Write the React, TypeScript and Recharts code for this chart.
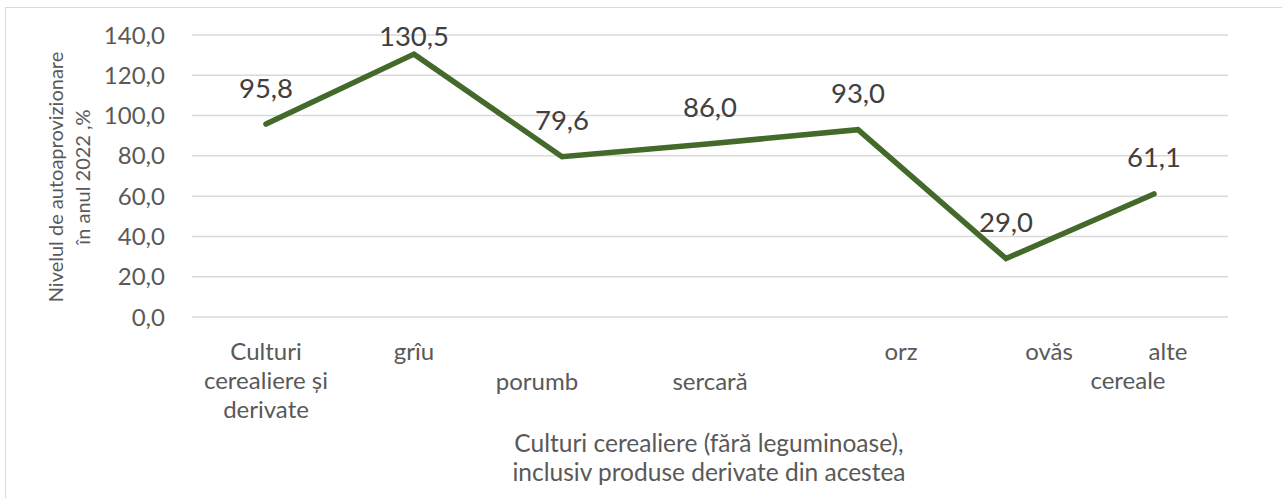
import { LineChart, Line, XAxis, YAxis, CartesianGrid, LabelList, Label } from 'recharts';

// categorii (culturi cerealiere) si nivelul de autoaprovizionare, %
const categories = [
  'Culturi cerealiere și derivate',
  'grîu',
  'porumb',
  'sercară',
  'orz',
  'ovăs',
  'alte cereale',
];
const tickLines = [
  ['Culturi', 'cerealiere și', 'derivate'],
  ['grîu'],
  ['porumb'],
  ['sercară'],
  ['orz'],
  ['ovăs'],
  ['alte', 'cereale'],
];
const values = [95.8, 130.5, 79.6, 86.0, 93.0, 29.0, 61.1];
const yTicks = [0, 20, 40, 60, 80, 100, 120, 140];

const xTitle = ['Culturi cerealiere (fără leguminoase),', 'inclusiv produse derivate din acestea'];
const yTitle = ['Nivelul de autoaprovizionare', 'în anul 2022 ,%'];

const data = categories.map((name, i) => ({ name, value: values[i] }));

const FONT = 'Lato, "Open Sans", sans-serif';
const TEXT = '#595959';
const GREEN = '#43692B';

// Excel a asezat etichetele putin decalat: rand (0 sus / 1 jos) si deplasare pe x per linie
const tickLayout = [
  { row: 0, dx: [0, 0, 0] },
  { row: 0, dx: [0] },
  { row: 1, dx: [-25] },
  { row: 1, dx: [0] },
  { row: 0, dx: [43] },
  { row: 0, dx: [43] },
  { row: 0, dx: [14, -26] },
];

const fmt = (v: number) => v.toFixed(1).replace('.', ',');

function CategoryTick(props: any) {
  const { x, y, index } = props;
  const lines = tickLines[index] || [];
  const lay = tickLayout[index] || { row: 0, dx: [] };
  return (
    <g>
      {lines.map((ln, k) => (
        <text
          key={k}
          x={x + (lay.dx[k] || 0)}
          y={y + 33 + lay.row * 30 + k * 29}
          textAnchor="middle"
          dominantBaseline="central"
          fill={TEXT}
          fontSize={24}
          fontFamily={FONT}
        >
          {ln}
        </text>
      ))}
    </g>
  );
}

function ValueLabel(props: any) {
  const { x, y, value } = props;
  return (
    <text
      x={x}
      y={Math.max(y - 37, 35)}
      textAnchor="middle"
      dominantBaseline="central"
      fill="#404040"
      fontSize={27.5}
      fontFamily={FONT}
    >
      {fmt(value)}
    </text>
  );
}

export default function App() {
  return (
    <div style={{ position: 'absolute', left: 0, top: 0, width: 1282, height: 498, overflow: 'hidden', background: '#fff' }}>
      <div
        style={{
          position: 'absolute',
          left: 5,
          top: 7,
          width: 1277,
          height: 491,
          borderLeft: '1.5px solid #d9d9d9',
          borderTop: '1.5px solid #d9d9d9',
        }}
      />
      <div style={{ position: 'absolute', left: 0, top: 0 }}>
        <LineChart width={1282} height={498} data={data} margin={{ top: 35, right: 54, bottom: 0, left: 92 }}>
          <CartesianGrid horizontal vertical={false} stroke="#d9d9d9" strokeWidth={1.5} />
          <XAxis
            dataKey="name"
            axisLine={false}
            tickLine={false}
            tickSize={0}
            tickMargin={0}
            height={181}
            interval={0}
            padding={{ left: 74, right: 74 }}
            tick={<CategoryTick />}
          >
            <Label
              content={() => (
                <g>
                  {xTitle.map((t, k) => (
                    <text
                      key={k}
                      x={709}
                      y={442 + k * 29}
                      textAnchor="middle"
                      dominantBaseline="central"
                      fill={TEXT}
                      fontSize={24.5}
                      fontFamily={FONT}
                    >
                      {t}
                    </text>
                  ))}
                </g>
              )}
            />
          </XAxis>
          <YAxis
            domain={[0, 140]}
            ticks={yTicks}
            width={100}
            axisLine={false}
            tickLine={false}
            tickSize={0}
            tickMargin={27}
            tickFormatter={fmt}
            tick={{ fill: TEXT, fontSize: 24, fontFamily: FONT }}
          >
            <Label
              content={() => (
                <g>
                  {yTitle.map((t, k) => (
                    <text
                      key={k}
                      x={55 + k * 27}
                      y={177}
                      transform={`rotate(-90 ${55 + k * 27} 177)`}
                      textAnchor="middle"
                      dominantBaseline="central"
                      fill={TEXT}
                      fontSize={20}
                      fontFamily={FONT}
                    >
                      {t}
                    </text>
                  ))}
                </g>
              )}
            />
          </YAxis>
          <Line
            type="linear"
            dataKey="value"
            stroke={GREEN}
            strokeWidth={5.5}
            strokeLinecap="round"
            dot={false}
            isAnimationActive={false}
          >
            <LabelList dataKey="value" content={<ValueLabel />} />
          </Line>
        </LineChart>
      </div>
    </div>
  );
}
